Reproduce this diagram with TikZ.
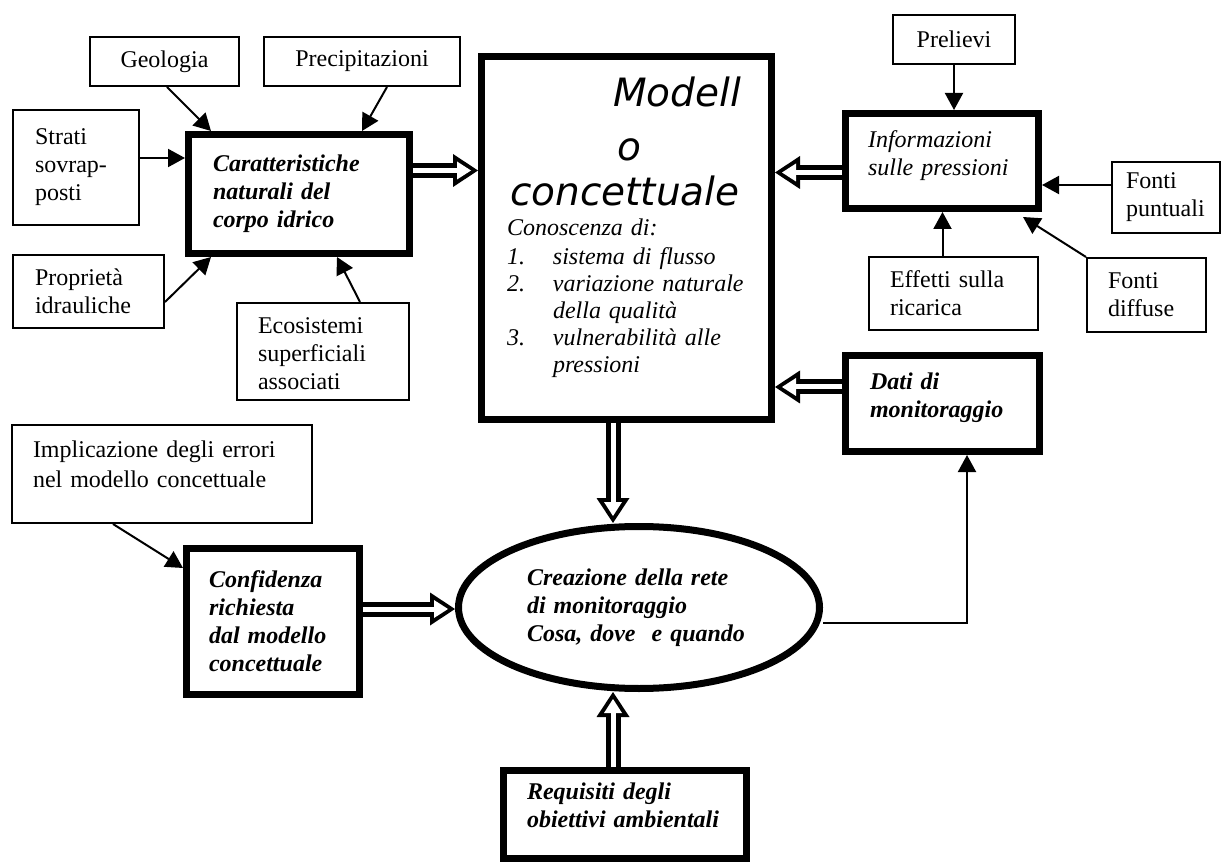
\documentclass[tikz,border=0pt]{standalone}
\usepackage{fontspec}
\setmainfont{Liberation Serif}
\newfontfamily\modelfont{DejaVu Sans}
\usetikzlibrary{arrows.meta}
\usetikzlibrary{shapes.geometric}

\newcommand{\bigsans}{\modelfont\fontsize{39}{27}\selectfont}

\begin{document}
\begin{tikzpicture}[x=1pt,y=-1pt,
  every node/.style={font=\fontsize{24}{28}\selectfont, inner sep=0pt},
  box/.style={draw, line width=2pt},
  bigbox/.style={draw, line width=7pt, font=\fontsize{24}{28}\selectfont\bfseries\itshape},
  arr/.style={line width=2pt, -{Triangle[length=17pt,width=18pt]}},
  dbl/.style={line width=15pt, -{Triangle[length=25pt,width=33pt,line width=0pt 0 0]},
    postaction={draw, white, line width=5pt, shorten >=7pt,
      -{Triangle[length=14pt,width=18pt,line width=0pt 0 0]}}}]
\useasboundingbox (0,0) rectangle (1221,866);

\node [box, minimum width=149pt, minimum height=49pt] (geo) at (164.5,61.5) {Geologia};
\node [box, minimum width=196pt, minimum height=49pt] (prec) at (362,61.5) {Precipitazioni};
\node [box, minimum width=126pt, minimum height=115pt, align=left, text width=82pt] (strati) at (76,167.5) {Strati\\sovrap-\\posti};
\node [bigbox, minimum width=221pt, minimum height=119pt, align=left, text width=172pt] (car) at (299,194) {Caratteristiche\\naturali del\\corpo idrico};
\node [box, minimum width=151pt, minimum height=73pt, align=left, text width=107pt] (prop) at (88.5,291.5) {Proprietà\\idrauliche};
\node [box, minimum width=172pt, minimum height=97pt, align=left, text width=130pt] (eco) at (323,351.5) {\rule{0pt}{20pt}Ecosistemi\\superficiali\\associati};

% modello concettuale
\node [bigbox, font=\fontsize{24}{27}\selectfont\itshape, minimum width=290pt, minimum height=363pt, align=left, text width=239pt] (model) at (626.5,238)
  {\hspace*{106pt}{\bigsans Modell}\\[27pt]
   \hspace*{110pt}{\bigsans o}\\[14pt]
   \hspace*{3pt}{\bigsans concettuale}\\[3pt]
   Conoscenza di:\\[2pt]
   \makebox[46pt][l]{1.}sistema di flusso\\
   \makebox[46pt][l]{2.}variazione naturale\\
   \hspace*{46pt}della qualità\\
   \makebox[46pt][l]{3.}vulnerabilità alle\\
   \hspace*{46pt}pressioni\rule[-26pt]{0pt}{0pt}};

\node [box, minimum width=122pt, minimum height=49pt] (prel) at (954,39.5) {Prelievi};
\node [bigbox, font=\fontsize{24}{28}\selectfont\itshape, minimum width=193pt, minimum height=95pt, align=left, text width=148pt] (info) at (942,161) {Informazioni\\sulle pressioni\rule[-16pt]{0pt}{0pt}};
\node [box, minimum width=108pt, minimum height=71pt, align=left, text width=80pt] (fpunt) at (1166,197.5) {Fonti\\puntuali};
\node [box, minimum width=169pt, minimum height=73pt, align=left, text width=127pt] (eff) at (953.5,293.5) {Effetti sulla\\ricarica};
\node [box, minimum width=119pt, minimum height=74pt, align=left, text width=77pt] (fdiff) at (1146.5,295) {Fonti\\diffuse};
\node [bigbox, minimum width=194pt, minimum height=96pt, align=left, text width=145pt] (dati) at (942.5,403.5) {Dati di\\monitoraggio\rule[-16pt]{0pt}{0pt}};

\node [box, minimum width=300pt, minimum height=98pt, align=left, text width=258pt] (impl) at (162,474) {Implicazione degli errori\\[2pt]nel modello concettuale\rule[-20pt]{0pt}{0pt}};
\node [bigbox, minimum width=173pt, minimum height=146pt, align=left, text width=128pt] (conf) at (273,621.5) {Confidenza\\richiesta\\dal modello\\concettuale};
\node [bigbox, ellipse, minimum width=361pt, minimum height=162pt, align=left, text width=224pt] (ell) at (639,607.5) {Creazione della rete\\di monitoraggio\\Cosa, dove\ \ e quando};
\node [bigbox, minimum width=243pt, minimum height=88pt, align=left, text width=196pt] (req) at (625,814.5) {Requisiti degli\\obiettivi ambientali\rule[-18pt]{0pt}{0pt}};

% single arrows
\coordinate (s1) at ([yshift=9.5pt]strati.east);
\coordinate (fp) at ([yshift=12.5pt]fpunt.west);
\coordinate (ef) at ([xshift=-11pt]eff.north);
\coordinate (ed) at ([yshift=-15pt]ell.east);
\coordinate (dd) at ([xshift=24.5pt]dati.south);
\draw [arr] ([xshift=2.5pt]geo.south) -- ([xshift=26pt]car.north west);
\draw [arr] ([xshift=25pt]prec.south) -- ([xshift=63pt]car.north);
\draw [arr] (s1) -- (s1 -| car.west);
\draw [arr] ([yshift=-10.5pt]prop.east) -- ([xshift=26pt]car.south west);
\draw [arr] ([xshift=37pt]eco.north) -- ([xshift=38pt]car.south);
\draw [arr] (prel.south) -- (prel.south |- info.north);
\draw [arr] (fp) -- (fp -| info.east);
\draw [arr] (ef) -- (ef |- info.south);
\draw [arr] (fdiff.north west) -- ([xshift=-19pt,yshift=-5pt]info.south east);
\draw [arr] ([xshift=-49pt]impl.south) -- ([yshift=53.5pt]conf.west);
\draw [arr] (ed) -| (dd);

% double arrows
\coordinate (c1) at ([yshift=23.5pt]car.east);
\coordinate (i1) at ([yshift=-11.5pt]info.west);
\coordinate (d1) at ([yshift=16.5pt]dati.west);
\coordinate (m1) at ([xshift=-13.5pt]model.south);
\coordinate (k1) at ([yshift=12.5pt]conf.east);
\coordinate (r1) at ([xshift=-12pt]req.north);
\draw [dbl] (c1) -- (c1 -| model.west);
\draw [dbl] (i1) -- (i1 -| model.east);
\draw [dbl] (d1) -- (d1 -| model.east);
\draw [dbl] (m1) -- (m1 |- ell.north);
\draw [dbl] (k1) -- (k1 -| ell.west);
\draw [dbl] (r1) -- (r1 |- ell.south);
\end{tikzpicture}
\end{document}
